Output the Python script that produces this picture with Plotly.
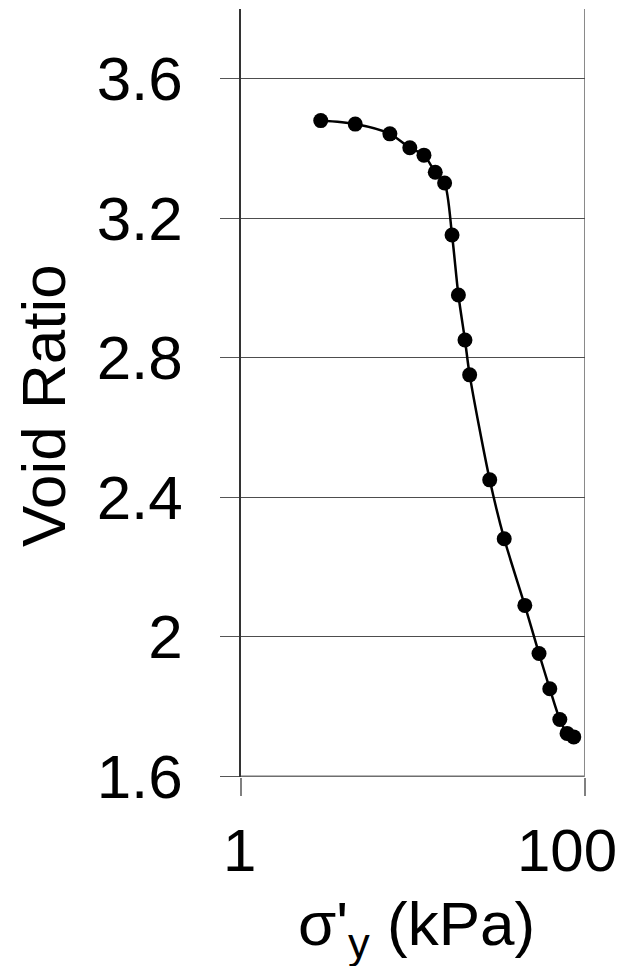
import plotly.graph_objects as go

# Oedometer test: effective vertical stress vs void ratio
stress_kpa = [2.91, 4.62, 7.35, 9.6, 11.6, 13.5, 15.3, 16.9, 18.4, 20.1, 21.4,
              28.0, 34.0, 44.8, 54.2, 62.6, 71.6, 78.9, 86.3]
void_ratio = [3.48, 3.47, 3.442, 3.402, 3.381, 3.332, 3.301, 3.152, 2.98, 2.851, 2.751,
              2.45, 2.281, 2.090, 1.952, 1.851, 1.763, 1.723, 1.713]

x_ticks = [1, 100]
x_tick_labels = ["1", "100"]
y_ticks = [1.6, 2.0, 2.4, 2.8, 3.2, 3.6]
y_tick_labels = ["1.6", "2", "2.4", "2.8", "3.2", "3.6"]

FONT = "Liberation Sans, Arial, sans-serif"
W, H = 621, 966
L, R, T, B = 241, 36, 9, 189

fig = go.Figure()
fig.add_trace(go.Scatter(
    x=stress_kpa, y=void_ratio,
    mode="lines+markers",
    line=dict(color="black", width=2.5, shape="spline", smoothing=0.8),
    marker=dict(color="black", size=15),
    showlegend=False,
))

fig.update_layout(
    width=W, height=H,
    margin=dict(l=L, r=R, t=T, b=B, pad=0),
    paper_bgcolor="white", plot_bgcolor="white",
    font=dict(family=FONT, size=60, color="black"),
    xaxis=dict(
        type="log", range=[0, 2.0015],
        tickvals=x_ticks, showticklabels=False,
        ticks="outside", ticklen=18, tickcolor="#808080", tickwidth=1.5,
        showgrid=True, gridcolor="#8a8a8a", gridwidth=1.5,
        showline=False, zeroline=False,
    ),
    yaxis=dict(
        range=[1.598, 3.8],
        tickvals=y_ticks, ticktext=y_tick_labels,
        ticks="outside", ticklen=19, tickcolor="#555555", tickwidth=1,
        ticklabelstandoff=25,
        tickfont=dict(size=62),
        showgrid=True, gridcolor="#4d4d4d", gridwidth=1,
        showline=True, linecolor="#333333", linewidth=1.5,
        zeroline=False,
    ),
)

# edge grid lines (bottom tick and right tick) that sit on the plot border
fig.add_shape(type="line", xref="paper", x0=0, x1=1, yref="y", y0=y_ticks[0], y1=y_ticks[0],
              line=dict(color="#6e6e6e", width=1.5), layer="below")
fig.add_shape(type="line", xref="x", x0=x_ticks[-1], x1=x_ticks[-1], yref="paper", y0=0, y1=1,
              line=dict(color="#8a8a8a", width=1.5), layer="below")

# x tick labels (the last one is pulled in so it stays on the page)
for pos, txt in zip([0, 2], x_tick_labels):
    shift = -18 if txt == "100" else -2
    fig.add_annotation(
        x=pos, xref="x", y=0, yref="paper",
        text=txt, showarrow=False, xanchor="center", yanchor="top",
        xshift=shift, yshift=-38, font=dict(size=60),
    )

# axis titles
fig.add_annotation(
    x=0.5, xref="paper", y=0, yref="paper",
    text="σ'<sub>y</sub> (kPa)", showarrow=False,
    xanchor="center", yanchor="top", xshift=3, yshift=-110,
    font=dict(size=62),
)
fig.add_annotation(
    x=0, xref="paper", y=(H - B - 406) / (H - T - B), yref="paper",
    text="Void Ratio", textangle=-90, showarrow=False,
    xanchor="center", yanchor="middle", xshift=-(L - 44),
    font=dict(size=62),
)

fig.write_html("out.html")
